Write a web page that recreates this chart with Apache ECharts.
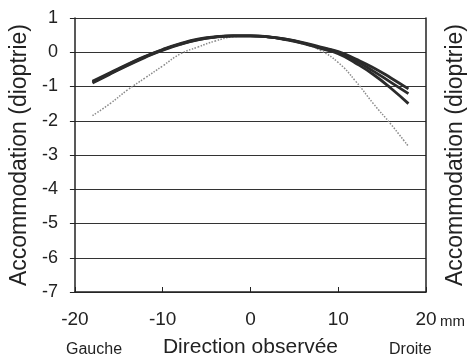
<!DOCTYPE html>
<html>
<head>
<meta charset="utf-8">
<script src="https://cdn.jsdelivr.net/npm/echarts@6/dist/echarts.min.js"></script>
<style>
  html, body { margin: 0; padding: 0; background: #fff; }
  #main { width: 475px; height: 363px; }
</style>
</head>
<body>
<div id="main"></div>
<script>
// direction observee (mm)
const directions = [-18, -16, -14, -12, -10, -8, -6, -4, -2, 0, 2, 4, 6, 8, 10, 12, 14, 16, 18];
// accommodation (dioptrie), three thick curves + dotted curve
const accA = [-0.85, -0.6, -0.35, -0.12, 0.08, 0.25, 0.38, 0.45, 0.48, 0.48, 0.45, 0.38, 0.28, 0.15, 0.02, -0.2, -0.45, -0.75, -1.07];
const accB = [-0.87, -0.62, -0.37, -0.13, 0.07, 0.24, 0.37, 0.45, 0.48, 0.48, 0.45, 0.38, 0.27, 0.13, 0.0, -0.25, -0.55, -0.88, -1.21];
const accC = [-0.9, -0.64, -0.39, -0.15, 0.06, 0.23, 0.36, 0.44, 0.48, 0.48, 0.45, 0.37, 0.26, 0.11, -0.04, -0.32, -0.65, -1.05, -1.5];
const accDot = [-1.85, -1.5, -1.1, -0.75, -0.4, -0.05, 0.15, 0.33, 0.45, 0.48, 0.45, 0.38, 0.25, 0.05, -0.3, -0.85, -1.5, -2.1, -2.75];
const yTitle = "Accommodation (dioptrie)";

function pairs(ys) {
  return directions.map((x, i) => [x, ys[i]]);
}

let myChart = echarts.init(document.getElementById("main"));
const font = "Liberation Sans, Arial, sans-serif";
const thick = { color: "#2b2b2b", width: 2.8 };

let option = {
  backgroundColor: "#fff",
  animation: false,
  textStyle: { fontFamily: font },
  grid: { left: 72, right: 40, top: 18, bottom: 68 },
  xAxis: {
    type: "value",
    min: -20,
    max: 20,
    interval: 10,
    name: "Direction observée",
    nameLocation: "middle",
    nameGap: 45,
    nameTextStyle: { fontSize: 21, color: "#222", fontFamily: font },
    axisLine: { show: true, onZero: false, lineStyle: { color: "#222", width: 1.5 } },
    axisTick: { show: true, inside: true, length: 5, lineStyle: { color: "#222" } },
    axisLabel: { fontSize: 19, color: "#222", margin: 18 },
    splitLine: { show: false },
  },
  yAxis: [
    {
      type: "value",
      min: -7,
      max: 1,
      interval: 1,
      name: yTitle,
      nameLocation: "middle",
      nameRotate: 90,
      nameGap: 37,
      nameTextStyle: { fontSize: 23, color: "#222", fontFamily: font },
      axisLine: { show: true, onZero: false, lineStyle: { color: "#222", width: 1.5 } },
      axisTick: { show: true, length: 5, lineStyle: { color: "#222" } },
      axisLabel: { fontSize: 18, color: "#222", margin: 17 },
      splitLine: { show: true, lineStyle: { color: "#333", width: 1 } },
    },
    {
      type: "value",
      position: "right",
      min: -7,
      max: 1,
      interval: 1,
      name: yTitle,
      nameLocation: "middle",
      nameRotate: 90,
      nameGap: 18,
      nameTextStyle: { fontSize: 23, color: "#222", fontFamily: font },
      axisLine: { show: true, onZero: false, lineStyle: { color: "#222", width: 1.5 } },
      axisTick: { show: false },
      axisLabel: { show: false },
      splitLine: { show: false },
    },
  ],
  graphic: [
    { type: "text", left: 440, top: 314, style: { text: "mm", fontSize: 15, fill: "#222", fontFamily: font } },
    { type: "text", left: 66, top: 342, style: { text: "Gauche", fontSize: 16, fill: "#222", fontFamily: font } },
    { type: "text", left: 389, top: 342, style: { text: "Droite", fontSize: 16, fill: "#222", fontFamily: font } },
  ],
  series: [
    { type: "line", data: pairs(accDot), smooth: true, showSymbol: false, lineStyle: { color: "#8a8a8a", width: 1.5, type: "dotted" } },
    { type: "line", data: pairs(accA), smooth: true, showSymbol: false, lineStyle: thick },
    { type: "line", data: pairs(accB), smooth: true, showSymbol: false, lineStyle: thick },
    { type: "line", data: pairs(accC), smooth: true, showSymbol: false, lineStyle: thick },
  ],
};
myChart.setOption(option);
</script>
</body>
</html>
